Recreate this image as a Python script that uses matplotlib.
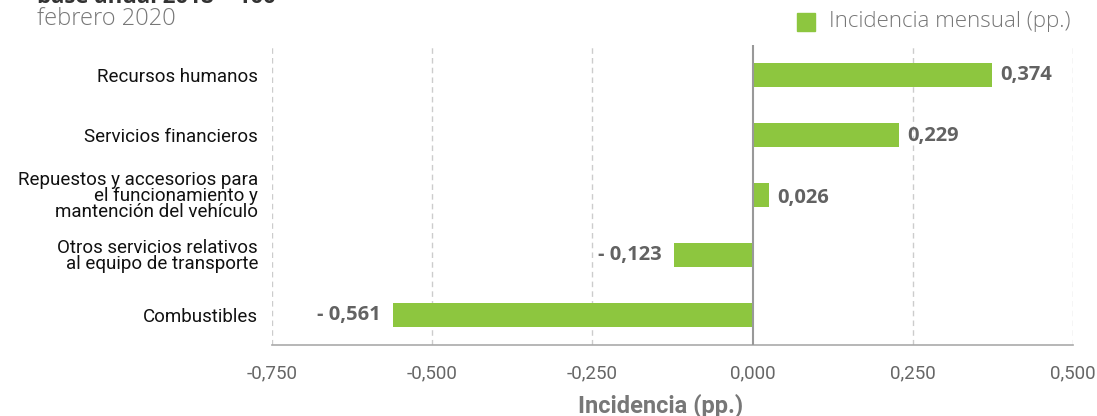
import matplotlib
matplotlib.use("Agg")
import matplotlib.pyplot as plt
from matplotlib import font_manager as fm
from matplotlib.patches import Rectangle

names = {f.name for f in fm.fontManager.ttflist}
narrow = 'Liberation Sans Narrow' if 'Liberation Sans Narrow' in names else 'Roboto'

categories = ["Recursos humanos", "Servicios financieros",
              "Repuestos y accesorios para\nel funcionamiento y\nmantención del vehículo",
              "Otros servicios relativos\nal equipo de transporte", "Combustibles"]
values = [0.374, 0.229, 0.026, -0.123, -0.561]
value_labels = ["0,374", "0,229", "0,026", "- 0,123", "- 0,561"]
xticks = [-0.75, -0.5, -0.25, 0.0, 0.25, 0.5]
xtick_labels = ["-0,750", "-0,500", "-0,250", "0,000", "0,250", "0,500"]
legend_label = "Incidencia mensual (pp.)"
green = "#8DC63F"

fig = plt.figure(figsize=(10.97, 4.16), dpi=100)
ax = fig.add_axes([272/1097, 1-345/416, (1073-272)/1097, 300/416])

ypos = list(range(len(categories)))
ax.barh(ypos, values, height=0.4, color=green, zorder=3)
ax.set_ylim(len(categories)-0.5, -0.5)
ax.set_xlim(-0.75, 0.5)
ax.set_xticks(xticks)
ax.set_xticklabels(xtick_labels, family=narrow, fontsize=13.5, color="#666666")
ax.set_yticks(ypos)
ax.set_yticklabels(categories, family=narrow, fontsize=13.5, color="#111111", linespacing=0.85)
ax.tick_params(axis='y', length=0, pad=10)
ax.tick_params(axis='x', length=0, pad=14)
for s in ['top', 'right', 'left']:
    ax.spines[s].set_visible(False)
ax.spines['bottom'].set_color("#aaaaaa")
ax.spines['bottom'].set_linewidth(1.2)
for x in xticks:
    if x != 0:
        ax.axvline(x, color="#cccccc", lw=1, ls=(0, (4, 3)), zorder=1)
ax.axvline(0, color="#999999", lw=1.5, zorder=4)

offsets_y = [0, -1, -2, 0, 0]
for y, v, lab, dy in zip(ypos, values, value_labels, offsets_y):
    if v >= 0:
        ax.annotate(lab, (v, y), xytext=(6, dy), textcoords='offset points',
                    ha='left', va='center', fontsize=14.5, fontweight='bold', color="#626262",
                    family='Open Sans')
    else:
        ax.annotate(lab, (v, y), xytext=(-9, 0), textcoords='offset points',
                    ha='right', va='center', fontsize=14.5, fontweight='bold', color="#626262",
                    family='Open Sans')

ax.set_xlabel("Incidencia (pp.)", family=narrow, fontsize=17, fontweight='bold',
              color="#777777")
ax.xaxis.set_label_coords((661-272)/801, -49/300)

fig.text(37/1097, 1-3/416, "base anual 2018 = 100", ha='left', va='baseline',
         fontsize=16, fontweight='bold', color="#333333", family='Open Sans')
fig.text(37/1097, 1-19/416, "febrero 2020", ha='left', va='center',
         fontsize=17, color="#777777", family='Open Sans', fontweight='light')
fig.patches.append(Rectangle((797/1097, 1-31/416), 18/1097, 18/416,
                             transform=fig.transFigure, color=green))
fig.text(829/1097, 1-21/416, legend_label, ha='left', va='center',
         fontsize=16, color="#777777", family='Open Sans', fontweight='light')

fig.savefig("out.png", dpi=100)
